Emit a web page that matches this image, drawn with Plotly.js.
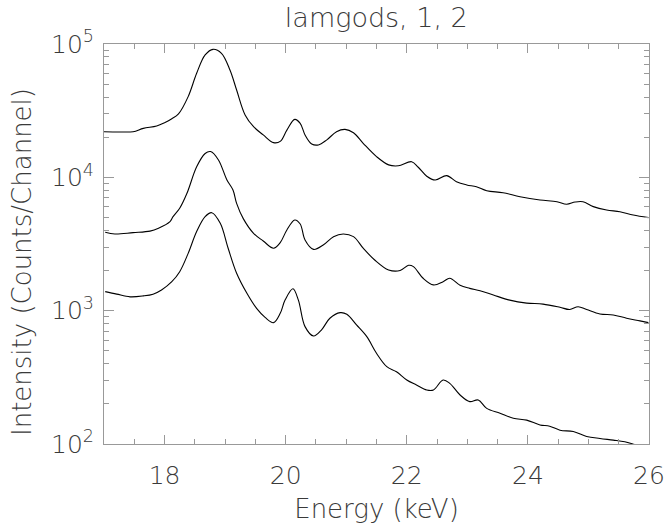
<!DOCTYPE html>
<html>
<head>
<meta charset="utf-8">
<script src="https://cdn.plot.ly/plotly-3.0.1.min.js"></script>
<style>html,body{margin:0;padding:0;background:#fff;}#chart{width:669px;height:526px;}</style>
</head>
<body>
<div id="chart"></div>
<script>
// Energy (keV) and intensity (counts/channel)
const energyTop = [17.00,17.25,17.48,17.65,17.87,18.00,18.12,18.23,18.39,18.53,18.67,18.80,18.94,19.08,19.19,19.33,19.47,19.63,19.80,19.91,20.02,20.15,20.24,20.32,20.43,20.54,20.68,20.84,20.98,21.12,21.28,21.50,21.70,21.86,22.08,22.19,22.33,22.47,22.66,22.82,22.99,23.15,23.32,23.59,23.87,24.20,24.48,24.64,24.78,24.91,25.08,25.30,25.52,25.74,25.99];
const countsTop = [22000,21900,22000,23300,24300,25700,27500,29900,40300,60300,82800,91200,85100,63800,45200,29400,24000,20800,18200,18600,22600,27200,25400,20800,17800,17500,19100,22000,22900,21600,18000,14300,12400,12200,13100,11900,10200,9550,10300,9270,8770,8510,7940,7670,7160,6760,6560,6280,6530,6560,6030,5690,5520,5220,4990];

const energyMid = [17.02,17.18,17.48,17.76,17.90,18.09,18.14,18.25,18.37,18.53,18.67,18.76,18.89,19.03,19.13,19.19,19.30,19.47,19.63,19.80,19.91,20.02,20.15,20.24,20.32,20.46,20.62,20.79,20.95,21.12,21.28,21.47,21.70,21.89,22.03,22.11,22.27,22.44,22.60,22.71,22.88,23.04,23.21,23.43,23.70,23.98,24.25,24.53,24.69,24.83,24.97,25.19,25.41,25.63,25.85,25.99];
const countsMid = [3870,3760,3850,3950,4150,4650,5070,5860,7590,12000,15100,15600,13500,9550,8040,6380,4900,3800,3330,2940,3240,4030,4790,4470,3390,2880,3110,3590,3760,3590,2940,2400,2020,2000,2190,2140,1750,1560,1650,1750,1550,1470,1410,1310,1200,1140,1120,1060,1020,1070,1020,944,929,877,838,813];

const energyLow = [17.02,17.21,17.43,17.65,17.81,17.95,18.12,18.25,18.39,18.53,18.67,18.78,18.92,19.05,19.19,19.36,19.52,19.66,19.80,19.91,19.99,20.12,20.21,20.32,20.46,20.59,20.73,20.90,21.01,21.17,21.34,21.50,21.67,21.83,22.00,22.16,22.33,22.44,22.60,22.71,22.88,23.04,23.18,23.32,23.54,23.76,23.98,24.20,24.36,24.53,24.75,24.97,25.19,25.41,25.60,25.80,26.00];
const countsLow = [1390,1330,1270,1290,1330,1430,1650,1960,2690,3920,5070,5430,4520,2940,1910,1350,1040,891,813,955,1200,1460,1200,759,646,716,877,966,940,782,638,479,380,348,302,277,254,254,302,285,233,208,214,185,170,156,151,139,136,127,124,114,110,107,104,98,93];

const xTickVals = [18,20,22,24,26];
const yTickVals = [100,1000,10000,100000];
const yTickText = ['10<sup>2</sup>','10<sup>3</sup>','10<sup>4</sup>','10<sup>5</sup>'];

const yMinor = [];
[100,1000,10000].forEach(d => { for (let m = 2; m <= 9; m++) yMinor.push(m*d); });

const lineStyle = {color:'#000', width:1.1, shape:'spline', smoothing:1};
const traces = [
  {x: energyTop, y: countsTop, mode:'lines', line: lineStyle, hoverinfo:'skip'},
  {x: energyMid, y: countsMid, mode:'lines', line: lineStyle, hoverinfo:'skip'},
  {x: energyLow, y: countsLow, mode:'lines', line: lineStyle, hoverinfo:'skip'}
];

const fontFam = 'DejaVu Sans, sans-serif';
const axisCol = '#999';
const txtCol = '#3a3a3a';
const layout = {
  width: 669, height: 526,
  margin: {l:104, r:20, t:44, b:82, pad:0},
  paper_bgcolor:'#fff', plot_bgcolor:'#fff',
  showlegend:false,
  font: {family: fontFam, color:txtCol, size:25, weight:200},
  title: {text:'lamgods, 1, 2', font:{family:fontFam, size:27, color:txtCol, weight:200}, x:0.5625, xanchor:'center', y:1-18/526, yanchor:'middle', pad:{t:0,b:0}},
  xaxis: {
    range:[17,26], tickmode:'array', tickvals:xTickVals,
    showline:true, linecolor:axisCol, linewidth:1, mirror:'ticks',
    ticks:'inside', ticklen:9, tickcolor:axisCol, tickwidth:1,
    minor:{ticks:'inside', ticklen:5, dtick:0.5, tick0:17, tickcolor:axisCol, tickwidth:1, showgrid:false},
    showgrid:false, zeroline:false, ticklabelstandoff:9,
    tickfont:{family:fontFam, size:25, color:txtCol, weight:200},
    title:{text:'Energy (keV)', font:{family:fontFam, size:26, color:txtCol, weight:200}, standoff:10}
  },
  yaxis: {
    type:'log', range:[2,5], tickmode:'array', tickvals:yTickVals, ticktext:yTickText,
    showline:true, linecolor:axisCol, linewidth:1, mirror:'ticks',
    ticks:'inside', ticklen:10, tickcolor:axisCol, tickwidth:1,
    minor:{ticks:'inside', ticklen:5, tickmode:'array', tickvals:yMinor, tickcolor:axisCol, tickwidth:1, showgrid:false},
    showgrid:false, zeroline:false, ticklabelstandoff:4,
    tickfont:{family:fontFam, size:25, color:txtCol, weight:200}
  },
  annotations: [
    {text:'Intensity (Counts/Channel)', textangle:-90, xref:'paper', yref:'paper',
     x:(22-104)/545, y:(444-262)/400, xanchor:'center', yanchor:'middle', showarrow:false,
     font:{family:fontFam, size:26, color:txtCol, weight:200}}
  ]
};

Plotly.newPlot('chart', traces, layout, {staticPlot:true, displayModeBar:false});
</script>
</body>
</html>
